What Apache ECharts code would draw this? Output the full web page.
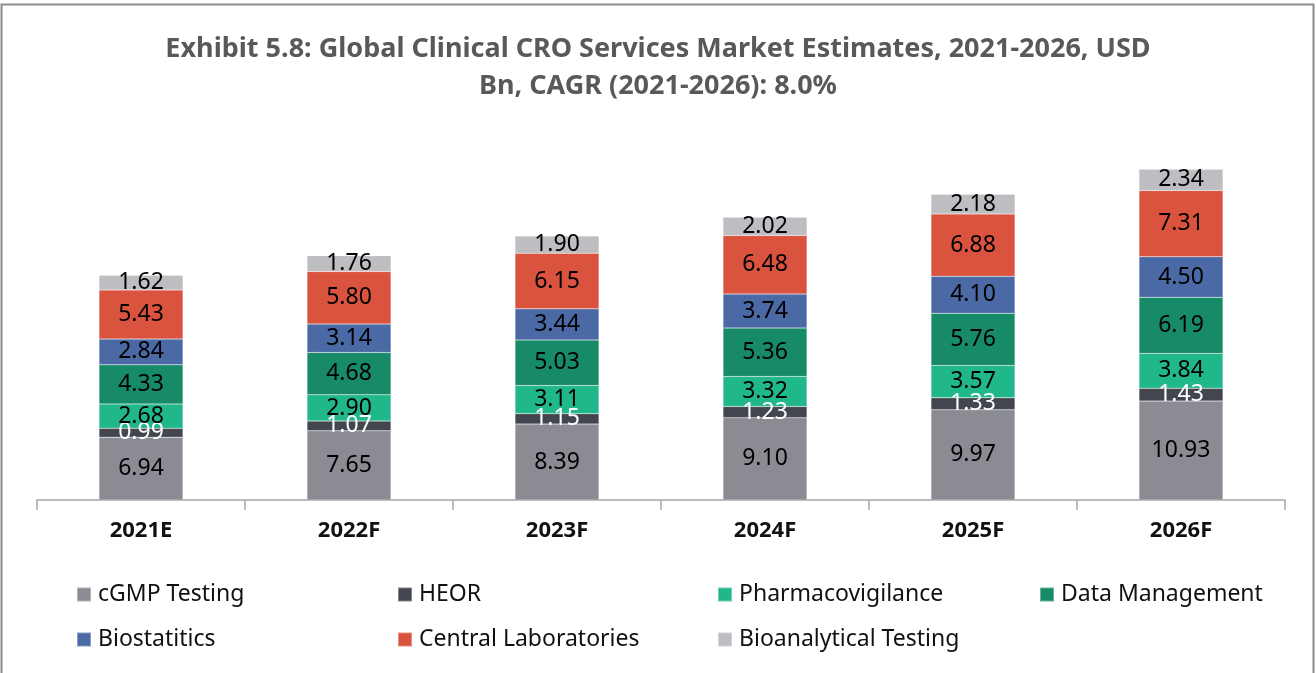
<!DOCTYPE html>
<html>
<head>
<meta charset="utf-8">
<style>
  html, body { margin: 0; padding: 0; background: #fff; }
  #chart { width: 1316px; height: 673px; }
</style>
<script src="https://cdn.jsdelivr.net/npm/echarts@6/dist/echarts.min.js"></script>
</head>
<body>
<div id="chart"></div>
<script>
// Global clinical CRO services market by segment, USD Bn
const years = ['2021E', '2022F', '2023F', '2024F', '2025F', '2026F'];
const cgmpTesting        = [6.94, 7.65, 8.39, 9.10, 9.97, 10.93];
const heor               = [0.99, 1.07, 1.15, 1.23, 1.33, 1.43];
const pharmacovigilance  = [2.68, 2.90, 3.11, 3.32, 3.57, 3.84];
const dataManagement     = [4.33, 4.68, 5.03, 5.36, 5.76, 6.19];
const biostatistics      = [2.84, 3.14, 3.44, 3.74, 4.10, 4.50];
const centralLabs        = [5.43, 5.80, 6.15, 6.48, 6.88, 7.31];
const bioanalytical      = [1.62, 1.76, 1.90, 2.02, 2.18, 2.34];

const segments = [
  { name: 'cGMP Testing',          data: cgmpTesting,       color: '#8b8b93', text: '#000' },
  { name: 'HEOR',                  data: heor,              color: '#43464f', text: '#fff' },
  { name: 'Pharmacovigilance',     data: pharmacovigilance, color: '#20b78a', text: '#000' },
  { name: 'Data Management',       data: dataManagement,    color: '#178a68', text: '#000' },
  { name: 'Biostatitics',          data: biostatistics,     color: '#4a69a5', text: '#000' },
  { name: 'Central Laboratories',  data: centralLabs,       color: '#d9533f', text: '#000' },
  { name: 'Bioanalytical Testing', data: bioanalytical,     color: '#bdbdc2', text: '#000' }
];

const FONT = '"Noto Sans", "Open Sans", sans-serif';

// legend laid out in a 4-column grid, two rows
const legendSlots = [
  [76, 583], [397, 583], [717, 583], [1039, 583],
  [76, 628], [397, 628], [717, 628]
];
const legends = segments.map((s, i) => ({
  data: [s.name],
  left: legendSlots[i][0],
  top: legendSlots[i][1],
  padding: 0,
  itemWidth: 14,
  itemHeight: 14,
  itemGap: 0,
  icon: 'rect',
  selectedMode: false,
  textStyle: { fontFamily: FONT, fontSize: 23, color: '#111', padding: [0, 0, 0, 2] }
}));

const chart = echarts.init(document.getElementById('chart'), null, { renderer: 'canvas' });
chart.setOption({
  animation: false,
  backgroundColor: '#fff',
  title: {
    text: 'Exhibit 5.8: Global Clinical CRO Services Market Estimates, 2021-2026, USD\nBn, CAGR (2021-2026): 8.0%',
    left: 'center',
    top: 26,
    textStyle: { fontFamily: FONT, fontWeight: 'bold', fontSize: 27, color: '#595959', lineHeight: 37 }
  },
  legend: legends,
  grid: { left: 37, right: 31, top: 138, bottom: 173 },
  xAxis: {
    type: 'category',
    data: years,
    axisLine: { lineStyle: { color: '#a6a6a6', width: 1.5 } },
    axisTick: { show: true, length: 10, lineStyle: { color: '#a6a6a6', width: 1.5 } },
    axisLabel: { fontFamily: FONT, fontWeight: 'bold', fontSize: 22, color: '#111', margin: 20 }
  },
  yAxis: {
    type: 'value',
    min: 0,
    max: 40,
    show: false,
    splitLine: { show: false }
  },
  graphic: [
    { type: 'rect', shape: { x: 1.5, y: 4.5, width: 1312, height: 700 },
      style: { fill: 'none', stroke: '#8c8c8c', lineWidth: 2 }, silent: true }
  ],
  series: segments.map(s => ({
    name: s.name,
    type: 'bar',
    stack: 'total',
    barWidth: 84,
    data: s.data,
    itemStyle: { color: s.color, borderColor: 'rgba(255,255,255,0.35)', borderWidth: 0.5 },
    label: {
      show: true,
      position: 'inside',
      formatter: p => p.value.toFixed(2),
      fontFamily: FONT,
      fontSize: 23,
      color: s.text
    }
  }))
});
</script>
</body>
</html>
